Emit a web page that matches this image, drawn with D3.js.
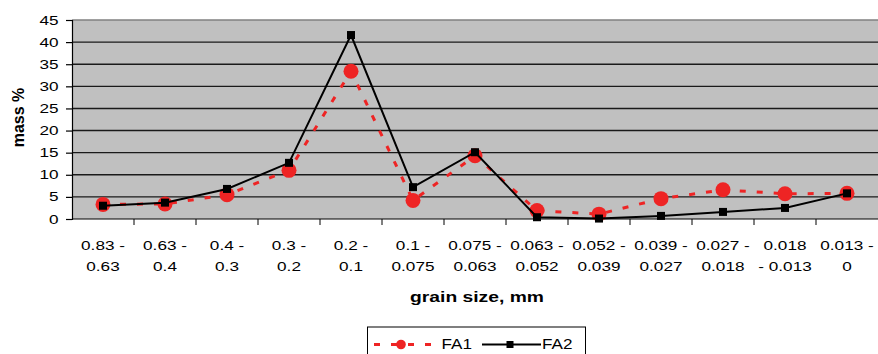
<!DOCTYPE html>
<html>
<head>
<meta charset="utf-8">
<script src="https://cdn.jsdelivr.net/npm/d3@7"></script>
<style>
  html, body { margin: 0; padding: 0; background: #fff; }
  svg { display: block; font-family: "Liberation Sans", Arial, sans-serif; }
</style>
</head>
<body>
<svg id="chart" width="878" height="354"></svg>
<script>
// Grain size fractions (mm)
const categories = ["0.83 - 0.63", "0.63 - 0.4", "0.4 - 0.3", "0.3 - 0.2", "0.2 - 0.1",
  "0.1 - 0.075", "0.075 - 0.063", "0.063 - 0.052", "0.052 - 0.039", "0.039 - 0.027",
  "0.027 - 0.018", "0.018 - 0.013", "0.013 - 0"];
// Wrapped tick label lines for each fraction
const categoryLines = [["0.83 -", "0.63"], ["0.63 -", "0.4"], ["0.4 -", "0.3"], ["0.3 -", "0.2"],
  ["0.2 -", "0.1"], ["0.1 -", "0.075"], ["0.075 -", "0.063"], ["0.063 -", "0.052"],
  ["0.052 -", "0.039"], ["0.039 -", "0.027"], ["0.027 -", "0.018"], ["0.018", "- 0.013"],
  ["0.013 -", "0"]];
// Mass % per fraction
const fa1 = [3.3, 3.4, 5.5, 11.0, 33.4, 4.2, 14.3, 1.9, 1.1, 4.6, 6.6, 5.7, 5.8];
const fa2 = [3.0, 3.7, 6.8, 12.7, 41.6, 7.2, 15.1, 0.4, 0.1, 0.7, 1.6, 2.5, 5.8];
const yTicks = [0, 5, 10, 15, 20, 25, 30, 35, 40, 45];
const seriesNames = ["FA1", "FA2"];

const svg = d3.select("#chart");
const plotLeft = 72, plotRight = 878, plotTop = 20, plotBottom = 219;

const x = d3.scaleBand().domain(categories).range([plotLeft, plotRight]);
const y = d3.scaleLinear().domain([0, 45]).range([plotBottom, plotTop]);

// horizontally stretched text helper
function stext(g, px, py, str, opts) {
  const o = Object.assign({size: 13, sx: 1.32, anchor: "middle", weight: "normal"}, opts || {});
  return g.append("text")
    .attr("transform", `translate(${px},${py}) scale(${o.sx},1)`)
    .attr("text-anchor", o.anchor)
    .attr("font-size", o.size)
    .attr("font-weight", o.weight)
    .attr("fill", "#000")
    .text(str);
}

// plot background
svg.append("rect")
  .attr("x", plotLeft).attr("y", plotTop)
  .attr("width", plotRight - plotLeft).attr("height", plotBottom - plotTop)
  .attr("fill", "#c0c0c0");

// horizontal gridlines
svg.append("g").selectAll("line")
  .data(yTicks.filter(v => v > 0))
  .join("line")
  .attr("x1", plotLeft).attr("x2", plotRight)
  .attr("y1", d => y(d)).attr("y2", d => y(d))
  .attr("stroke", d => d === 45 ? "#808080" : "#1a1a1a")
  .attr("stroke-width", 1.4);

// y axis
const yAxis = svg.append("g")
  .attr("transform", `translate(${plotLeft},0)`)
  .call(d3.axisLeft(y).tickValues(yTicks).tickSize(6).tickFormat(d3.format("d")));
yAxis.select(".domain").attr("stroke", "#000").attr("stroke-width", 1.2);
yAxis.selectAll(".tick line").attr("stroke", "#000").attr("stroke-width", 1.2);
yAxis.selectAll(".tick text").remove();
const yLab = svg.append("g");
yTicks.forEach(v => stext(yLab, 58.5, y(v) + 4.5, String(v), {anchor: "end"}));

// x axis baseline and boundary ticks
svg.append("line")
  .attr("x1", plotLeft).attr("x2", plotRight)
  .attr("y1", plotBottom).attr("y2", plotBottom)
  .attr("stroke", "#000").attr("stroke-width", 1.2);
svg.append("g").selectAll("line")
  .data(categories.slice(1))
  .join("line")
  .attr("x1", d => x(d)).attr("x2", d => x(d))
  .attr("y1", plotBottom).attr("y2", plotBottom + 6)
  .attr("stroke", "#000").attr("stroke-width", 1);

// x tick labels (two lines)
const xLab = svg.append("g");
categories.forEach((c, i) => {
  const cx = x(c) + x.bandwidth() / 2;
  stext(xLab, cx, 250, categoryLines[i][0]);
  stext(xLab, cx, 271, categoryLines[i][1]);
});

// axis titles
stext(svg, (plotLeft + plotRight) / 2 + 2, 302, "grain size, mm", {size: 14.5, sx: 1.33, weight: "bold"});
svg.append("text")
  .attr("transform", `translate(24,${(plotTop + plotBottom) / 2 - 2}) rotate(-90)`)
  .attr("text-anchor", "middle")
  .attr("font-size", 16).attr("font-weight", "bold")
  .text("mass %");

const cxOf = (d, i) => x(categories[i]) + x.bandwidth() / 2;
const line = d3.line().x((d, i) => cxOf(d, i)).y(d => y(d));

// FA1: red dashed with circles
svg.append("path").datum(fa1)
  .attr("d", line).attr("fill", "none")
  .attr("stroke", "#ee2424").attr("stroke-width", 3)
  .attr("stroke-dasharray", "6,11");
svg.append("g").selectAll("circle").data(fa1).join("circle")
  .attr("cx", cxOf).attr("cy", d => y(d)).attr("r", 7.5)
  .attr("fill", "#ee2424");

// FA2: black solid with squares
svg.append("path").datum(fa2)
  .attr("d", line).attr("fill", "none")
  .attr("stroke", "#000").attr("stroke-width", 2);
svg.append("g").selectAll("rect").data(fa2).join("rect")
  .attr("x", (d, i) => cxOf(d, i) - 4).attr("y", d => y(d) - 4)
  .attr("width", 8).attr("height", 8).attr("fill", "#000");

// legend
const lg = svg.append("g");
lg.append("rect").attr("x", 367.5).attr("y", 327).attr("width", 218).attr("height", 40)
  .attr("fill", "#fff").attr("stroke", "#000").attr("stroke-width", 1);
const ly = 344.5;
lg.append("line").attr("x1", 374).attr("x2", 431).attr("y1", ly).attr("y2", ly)
  .attr("stroke", "#ee2424").attr("stroke-width", 3).attr("stroke-dasharray", "6,11");
lg.append("circle").attr("cx", 401).attr("cy", ly).attr("r", 4.8).attr("fill", "#ee2424");
stext(lg, 441.5, 349, seriesNames[0], {size: 14.5, sx: 1.18, anchor: "start"});
lg.append("line").attr("x1", 482).attr("x2", 541).attr("y1", ly).attr("y2", ly)
  .attr("stroke", "#000").attr("stroke-width", 2);
lg.append("rect").attr("x", 506.5).attr("y", ly - 3.5).attr("width", 7).attr("height", 7).attr("fill", "#000");
stext(lg, 542, 349, seriesNames[1], {size: 14.5, sx: 1.18, anchor: "start"});
</script>
</body>
</html>
